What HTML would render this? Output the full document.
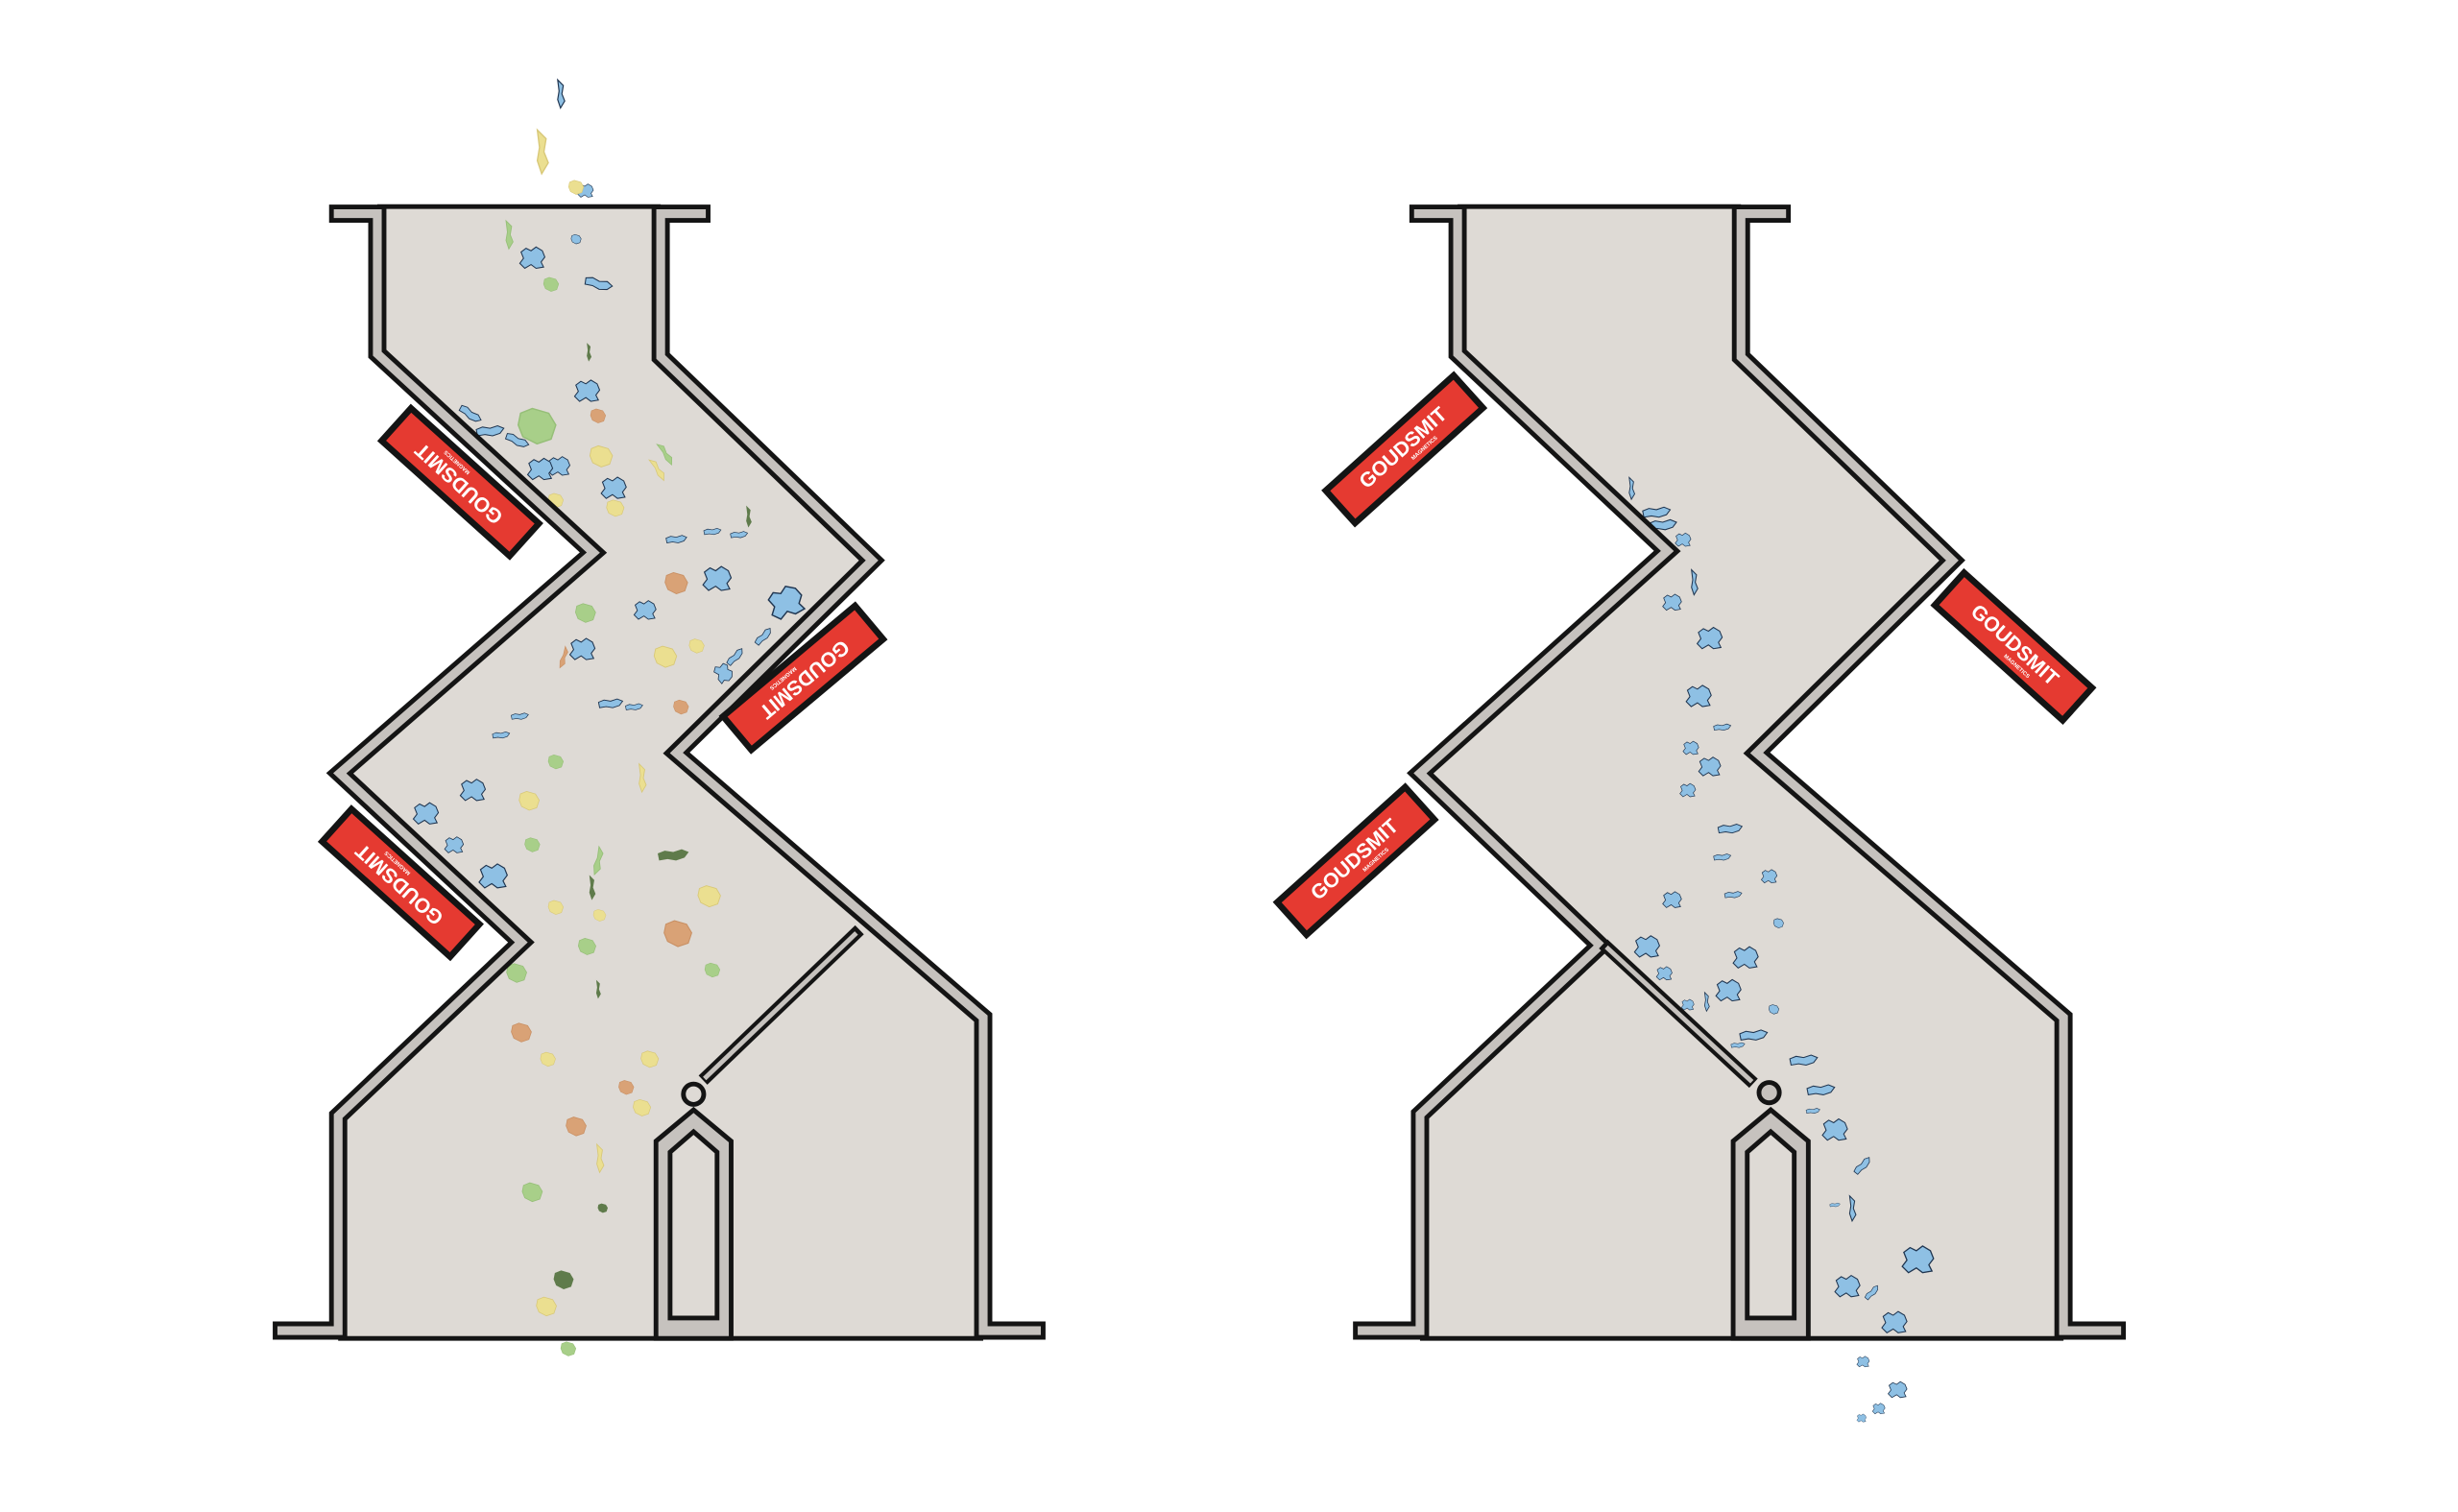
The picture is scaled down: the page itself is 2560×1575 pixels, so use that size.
<!DOCTYPE html>
<html><head><meta charset="utf-8"><style>
html,body{margin:0;padding:0;background:#fff;}
svg{display:block;}
.mt{font-family:"Liberation Sans",sans-serif;font-weight:bold;fill:#fff;}
</style></head><body>
<svg width="2560" height="1575" viewBox="0 0 2560 1575" xmlns="http://www.w3.org/2000/svg">
<defs>
<path id="b" d="M-9,-5 L-5,-8 L-1,-6 L3,-9 L8,-6 L10,-1 L7,3 L9,7 L3,8 L-1,5 L-6,8 L-10,4 L-7,0 Z"/>
<path id="e" d="M-11,-2 L-6,-4 L0,-3 L6,-5 L11,-3 L8,1 L2,3 L-4,2 L-10,3 Z"/>
<path id="f" d="M-7,-6 L-2,-8 L5,-6 L8,-1 L6,5 L0,7 L-6,4 L-8,-1 Z"/>
<path id="s" d="M-2,-10 L2,-6 L1,0 L3,5 L0,10 L-2,4 L-1,-2 Z"/>
</defs>
<g transform="scale(1.6306)">
<!-- LEFT CHUTE -->
<polygon fill="#dedad5" points="241,131 422,131 422,228 557,358 432,481 628,650 628,856 216,856 216,713 333,602 217,494 379,353 241,226"/>
<!-- RIGHT CHUTE -->
<polygon fill="#dedad5" points="931,131 1112,131 1112,228 1247,358 1122,481 1318,650 1318,856 907,856 907,712 1022,604 907,494 1065,352 931,226"/>

<!-- particles left -->
<g stroke="#1f3550" stroke-width="0.8" fill="#8ec0e4">
<use href="#b" transform="translate(340,165) scale(0.8)"/>
<use href="#e" transform="translate(382,182) scale(0.8) rotate(20)"/>
<use href="#f" transform="translate(368,153) scale(0.4)"/>
<use href="#b" transform="translate(375,250) scale(0.8)"/>
<use href="#b" transform="translate(357,298) scale(0.7)"/>
<use href="#b" transform="translate(392,312) scale(0.8)"/>
<use href="#b" transform="translate(412,390) scale(0.7)"/>
<use href="#b" transform="translate(458,370) scale(0.9)"/>
<use href="#b" transform="translate(502,385) scale(1.1) rotate(-20)"/>
<use href="#e" transform="translate(432,345) scale(0.6)"/>
<use href="#e" transform="translate(455,340) scale(0.5)"/>
<use href="#e" transform="translate(472,342) scale(0.5)"/>
<use href="#b" transform="translate(372,415) scale(0.8)"/>
<use href="#e" transform="translate(390,450) scale(0.7)"/>
<use href="#e" transform="translate(405,452) scale(0.5)"/>
<use href="#e" transform="translate(320,470) scale(0.5)"/>
<use href="#e" transform="translate(332,458) scale(0.5)"/>
<use href="#b" transform="translate(302,505) scale(0.8)"/>
<use href="#b" transform="translate(272,520) scale(0.8)"/>
<use href="#b" transform="translate(290,540) scale(0.6)"/>
<use href="#b" transform="translate(315,560) scale(0.9)"/>
<use href="#e" transform="translate(300,265) scale(0.7) rotate(40)"/>
<use href="#e" transform="translate(313,276) scale(0.8)"/>
<use href="#e" transform="translate(330,282) scale(0.7) rotate(30)"/>
<use href="#b" transform="translate(345,300) scale(0.8)"/>
<use href="#b" transform="translate(462,430) scale(0.6) rotate(60)"/>
<use href="#e" transform="translate(488,407) scale(0.6) rotate(-40)"/>
<use href="#e" transform="translate(470,420) scale(0.6) rotate(-40)"/>
<use href="#b" transform="translate(374,122) scale(0.5)"/>
<use href="#s" transform="translate(358,60) scale(0.9)"/>
</g>
<g fill="#ebdf90" stroke="#d8c878" stroke-width="0.6">
<use href="#s" transform="translate(346,97) scale(1.4)"/>
<use href="#f" transform="translate(384,292) scale(0.9)"/>
<use href="#f" transform="translate(393,325) scale(0.7)"/>
<use href="#s" transform="translate(420,300) scale(0.8) rotate(-30)"/>
<use href="#f" transform="translate(355,320) scale(0.6)"/>
<use href="#f" transform="translate(425,420) scale(0.9)"/>
<use href="#f" transform="translate(445,413) scale(0.6)"/>
<use href="#f" transform="translate(338,512) scale(0.8)"/>
<use href="#s" transform="translate(410,497) scale(0.9)"/>
<use href="#f" transform="translate(453,573) scale(0.9)"/>
<use href="#f" transform="translate(355,580) scale(0.6)"/>
<use href="#f" transform="translate(383,585) scale(0.5)"/>
<use href="#f" transform="translate(415,677) scale(0.7)"/>
<use href="#f" transform="translate(410,708) scale(0.7)"/>
<use href="#s" transform="translate(383,740) scale(0.9)"/>
<use href="#f" transform="translate(349,835) scale(0.8)"/>
<use href="#f" transform="translate(350,677) scale(0.6)"/>
<use href="#f" transform="translate(368,120) scale(0.6)"/>
</g>
<g fill="#a8cf89" stroke="#96bf78" stroke-width="0.6">
<use href="#f" transform="translate(343,273) scale(1.5)"/>
<use href="#f" transform="translate(352,182) scale(0.6)"/>
<use href="#s" transform="translate(325,150) scale(0.9)"/>
<use href="#f" transform="translate(374,392) scale(0.8)"/>
<use href="#f" transform="translate(355,487) scale(0.6)"/>
<use href="#f" transform="translate(340,540) scale(0.6)"/>
<use href="#f" transform="translate(375,605) scale(0.7)"/>
<use href="#f" transform="translate(330,622) scale(0.8)"/>
<use href="#f" transform="translate(340,762) scale(0.8)"/>
<use href="#f" transform="translate(363,862) scale(0.6)"/>
<use href="#f" transform="translate(455,620) scale(0.6)"/>
<use href="#s" transform="translate(425,290) scale(0.8) rotate(-30)"/>
<use href="#s" transform="translate(382,550) scale(0.9) rotate(15)"/>
</g>
<g fill="#d9a276" stroke="#c99064" stroke-width="0.6">
<use href="#f" transform="translate(432,373) scale(0.9)"/>
<use href="#f" transform="translate(382,266) scale(0.6)"/>
<use href="#f" transform="translate(433,597) scale(1.1)"/>
<use href="#f" transform="translate(333,660) scale(0.8)"/>
<use href="#f" transform="translate(368,720) scale(0.8)"/>
<use href="#f" transform="translate(400,695) scale(0.6)"/>
<use href="#f" transform="translate(435,452) scale(0.6)"/>
<use href="#s" transform="translate(360,420) scale(0.7) rotate(20)"/>
</g>
<g fill="#5f7b4b">
<use href="#e" transform="translate(430,547) scale(0.9)"/>
<use href="#s" transform="translate(378,567) scale(0.8)"/>
<use href="#f" transform="translate(360,818) scale(0.8)"/>
<use href="#f" transform="translate(385,772) scale(0.4)"/>
<use href="#s" transform="translate(478,330) scale(0.7)"/>
<use href="#s" transform="translate(376,225) scale(0.6)"/>
<use href="#s" transform="translate(382,632) scale(0.6)"/>
</g>
<!-- particles right -->
<g stroke="#1f3550" stroke-width="0.8" fill="#8ec0e4">
<use href="#s" transform="translate(1042,312) scale(0.7)"/>
<use href="#e" transform="translate(1058,328) scale(0.8)"/>
<use href="#e" transform="translate(1062,336) scale(0.8)"/>
<use href="#b" transform="translate(1075,345) scale(0.5)"/>
<use href="#s" transform="translate(1082,372) scale(0.8)"/>
<use href="#b" transform="translate(1068,385) scale(0.6)"/>
<use href="#b" transform="translate(1092,408) scale(0.8)"/>
<use href="#b" transform="translate(1085,445) scale(0.8)"/>
<use href="#e" transform="translate(1100,465) scale(0.5)"/>
<use href="#b" transform="translate(1080,478) scale(0.5)"/>
<use href="#b" transform="translate(1092,490) scale(0.7)"/>
<use href="#b" transform="translate(1078,505) scale(0.5)"/>
<use href="#e" transform="translate(1105,530) scale(0.7)"/>
<use href="#e" transform="translate(1100,548) scale(0.5)"/>
<use href="#b" transform="translate(1130,560) scale(0.5)"/>
<use href="#b" transform="translate(1068,575) scale(0.6)"/>
<use href="#e" transform="translate(1107,572) scale(0.5)"/>
<use href="#f" transform="translate(1136,590) scale(0.4)"/>
<use href="#b" transform="translate(1052,605) scale(0.8)"/>
<use href="#b" transform="translate(1063,622) scale(0.5)"/>
<use href="#b" transform="translate(1115,612) scale(0.8)"/>
<use href="#b" transform="translate(1104,633) scale(0.8)"/>
<use href="#f" transform="translate(1133,645) scale(0.4)"/>
<use href="#e" transform="translate(1120,662) scale(0.8)"/>
<use href="#e" transform="translate(1110,668) scale(0.4)"/>
<use href="#e" transform="translate(1152,678) scale(0.8)"/>
<use href="#e" transform="translate(1163,697) scale(0.8)"/>
<use href="#e" transform="translate(1158,710) scale(0.4)"/>
<use href="#b" transform="translate(1172,722) scale(0.8)"/>
<use href="#e" transform="translate(1190,745) scale(0.6) rotate(-40)"/>
<use href="#s" transform="translate(1183,772) scale(0.8)"/>
<use href="#e" transform="translate(1172,770) scale(0.3)"/>
<use href="#b" transform="translate(1225,805) scale(1.0)"/>
<use href="#b" transform="translate(1180,822) scale(0.8)"/>
<use href="#e" transform="translate(1196,826) scale(0.5) rotate(-40)"/>
<use href="#b" transform="translate(1210,845) scale(0.8)"/>
<use href="#b" transform="translate(1190,870) scale(0.4)"/>
<use href="#b" transform="translate(1212,888) scale(0.6)"/>
<use href="#b" transform="translate(1200,900) scale(0.4)"/>
<use href="#b" transform="translate(1189,906) scale(0.3)"/>
<use href="#b" transform="translate(1078,642) scale(0.4)"/>
<use href="#s" transform="translate(1090,640) scale(0.6)"/>
</g>

<g fill="none" stroke-linejoin="miter" stroke-linecap="square">
<!-- left chute walls -->
<polyline stroke="#141414" stroke-width="11.6" points="216,136.5 241,136.5 241,226 379,353 217,494 333,602 216,713 216,850 180,850"/>
<polyline stroke="#c6c2be" stroke-width="5.6" points="216,136.5 241,136.5 241,226 379,353 217,494 333,602 216,713 216,850 180,850"/>
<polyline stroke="#141414" stroke-width="11.6" points="448,136.5 422,136.5 422,228 557,358 432,481 628,650 628,850 662,850"/>
<polyline stroke="#c6c2be" stroke-width="5.6" points="448,136.5 422,136.5 422,228 557,358 432,481 628,650 628,850 662,850"/>
<!-- right chute walls -->
<polyline stroke="#141414" stroke-width="11.6" points="906,136.5 931,136.5 931,226 1065,352 907,494 1022,604 907,712 907,850 870,850"/>
<polyline stroke="#c6c2be" stroke-width="5.6" points="906,136.5 931,136.5 931,226 1065,352 907,494 1022,604 907,712 907,850 870,850"/>
<polyline stroke="#141414" stroke-width="11.6" points="1138,136.5 1112,136.5 1112,228 1247,358 1122,481 1318,650 1318,850 1352,850"/>
<polyline stroke="#c6c2be" stroke-width="5.6" points="1138,136.5 1112,136.5 1112,228 1247,358 1122,481 1318,650 1318,850 1352,850"/>
</g>
<g stroke="#141414" stroke-width="3">
<line x1="241" y1="132" x2="422" y2="132"/>
<line x1="931" y1="132" x2="1112" y2="132"/>
<line x1="216" y1="855" x2="628" y2="855"/>
<line x1="907" y1="855" x2="1318" y2="855"/>
</g>
<!-- flaps -->
<g stroke-linecap="butt">
<line x1="549" y1="594" x2="449" y2="690" stroke="#141414" stroke-width="8"/>
<line x1="547" y1="596" x2="450" y2="689" stroke="#c6c2be" stroke-width="3"/>
<line x1="1024" y1="603" x2="1120" y2="692" stroke="#141414" stroke-width="8"/>
<line x1="1026" y1="605" x2="1119" y2="691" stroke="#c6c2be" stroke-width="3"/>
</g>
<!-- pillars -->
<g stroke="#141414" stroke-width="3" stroke-linejoin="miter">
<polygon fill="#c6c2be" points="419,855 419,729 443,709 467,729 467,855"/>
<polygon fill="#dedad5" points="428,842 428,736 443,723 458,736 458,842"/>
<circle cx="443" cy="699" r="6.5" fill="#dedad5"/>
<polygon fill="#c6c2be" points="1107,855 1107,729 1131,709 1155,729 1155,855"/>
<polygon fill="#dedad5" points="1116,842 1116,736 1131,723 1146,736 1146,842"/>
<circle cx="1130" cy="698" r="6.5" fill="#c6c2be"/>
</g>

<!-- magnets -->
<g stroke="#141414" stroke-width="4" fill="#e53a31">
<g transform="translate(294,308) rotate(222)"><rect x="-55" y="-14" width="110" height="28"/><text class="mt" x="0" y="3" font-size="13" text-anchor="middle" stroke="none">GOUDSMIT</text><text class="mt" x="10" y="9" font-size="3.5" text-anchor="middle" stroke="none">MAGNETICS</text></g>
<g transform="translate(513,433) rotate(140)"><rect x="-55" y="-14" width="110" height="28"/><text class="mt" x="0" y="3" font-size="13" text-anchor="middle" stroke="none">GOUDSMIT</text><text class="mt" x="10" y="9" font-size="3.5" text-anchor="middle" stroke="none">MAGNETICS</text></g>
<g transform="translate(256,564) rotate(222)"><rect x="-55" y="-14" width="110" height="28"/><text class="mt" x="0" y="3" font-size="13" text-anchor="middle" stroke="none">GOUDSMIT</text><text class="mt" x="10" y="9" font-size="3.5" text-anchor="middle" stroke="none">MAGNETICS</text></g>
<g transform="translate(897,287) rotate(-42)"><rect x="-55" y="-14" width="110" height="28"/><text class="mt" x="0" y="3" font-size="13" text-anchor="middle" stroke="none">GOUDSMIT</text><text class="mt" x="10" y="9" font-size="3.5" text-anchor="middle" stroke="none">MAGNETICS</text></g>
<g transform="translate(1286,413) rotate(42)"><rect x="-55" y="-14" width="110" height="28"/><text class="mt" x="0" y="3" font-size="13" text-anchor="middle" stroke="none">GOUDSMIT</text><text class="mt" x="10" y="9" font-size="3.5" text-anchor="middle" stroke="none">MAGNETICS</text></g>
<g transform="translate(866,550) rotate(-42)"><rect x="-55" y="-14" width="110" height="28"/><text class="mt" x="0" y="3" font-size="13" text-anchor="middle" stroke="none">GOUDSMIT</text><text class="mt" x="10" y="9" font-size="3.5" text-anchor="middle" stroke="none">MAGNETICS</text></g>
</g>
</g>
</svg>
</body></html>
